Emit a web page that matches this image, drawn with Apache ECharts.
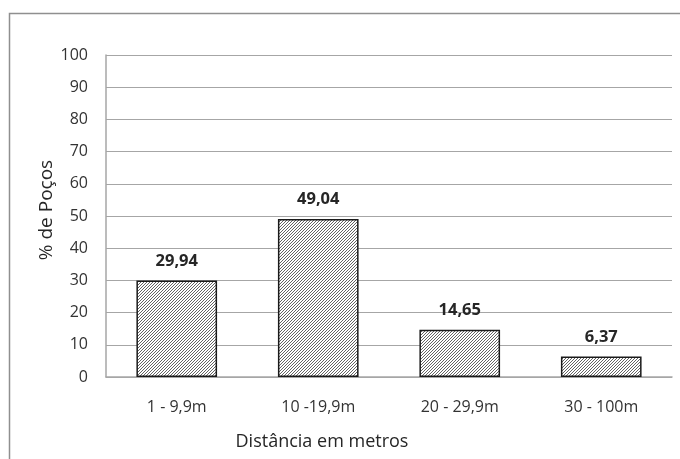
<!DOCTYPE html>
<html>
<head>
<meta charset="utf-8">
<script src="https://cdn.jsdelivr.net/npm/echarts@6/dist/echarts.min.js"></script>
<style>
  html, body { margin: 0; padding: 0; background: #fff; }
  #chart { width: 680px; height: 459px; }
</style>
</head>
<body>
<div id="chart"></div>
<script>
// Distance classes and share of wells (%)
const categories = ['1 - 9,9m', '10 -19,9m', '20 - 29,9m', '30 - 100m'];
const percentages = [29.94, 49.04, 14.65, 6.37];
const yTicks = [0, 10, 20, 30, 40, 50, 60, 70, 80, 90, 100];

// Fine diagonal hatch fill for the bars
function hatchPattern() {
  const size = 3;
  const c = document.createElement('canvas');
  c.width = size; c.height = size;
  const ctx = c.getContext('2d');
  ctx.fillStyle = '#ffffff';
  ctx.fillRect(0, 0, size, size);
  ctx.strokeStyle = '#474747';
  ctx.lineWidth = 0.85;
  ctx.beginPath();
  ctx.moveTo(-1, size + 1); ctx.lineTo(size + 1, -1);
  ctx.moveTo(-1, 1); ctx.lineTo(1, -1);
  ctx.moveTo(size - 1, size + 1); ctx.lineTo(size + 1, size - 1);
  ctx.stroke();
  return c;
}

const chart = echarts.init(document.getElementById('chart'), null, { renderer: 'canvas' });
const font = '"Open Sans", sans-serif';

chart.setOption({
  animation: false,
  backgroundColor: '#ffffff',
  graphic: [{
    type: 'rect',
    shape: { x: 9.5, y: 13.5, width: 700, height: 460 },
    style: { fill: 'none', stroke: '#8f8f8f', lineWidth: 1.5 },
    silent: true,
    z: -1
  }],
  grid: { left: 106, right: 8, top: 55, bottom: 82, containLabel: false },
  xAxis: {
    type: 'category',
    data: categories,
    name: 'Distância em metros',
    nameLocation: 'middle',
    nameGap: 56,
    nameTextStyle: {
      fontFamily: font, fontSize: 18, color: '#262626',
      padding: [0, 134, 0, 0]
    },
    axisLine: { show: true, lineStyle: { color: '#a6a6a6', width: 1.5 } },
    axisTick: { show: false },
    axisLabel: { fontFamily: font, fontSize: 16, color: '#333333', margin: 22 }
  },
  yAxis: {
    type: 'value',
    min: yTicks[0],
    max: yTicks[yTicks.length - 1],
    interval: 10,
    name: '% de Poços',
    nameLocation: 'middle',
    nameGap: 50,
    nameMoveOverlap: false,
    nameRotate: 90,
    nameTextStyle: {
      fontFamily: font, fontSize: 19, color: '#262626',
      padding: [0, 0, 0, 12]
    },
    axisLine: { show: true, lineStyle: { color: '#a6a6a6', width: 1.5 } },
    axisTick: { show: false },
    axisLabel: { fontFamily: font, fontSize: 16, color: '#333333', margin: 18 },
    splitLine: { show: true, lineStyle: { color: '#a6a6a6', width: 1.2 } }
  },
  series: [{
    type: 'bar',
    data: percentages,
    barWidth: '57%',
    itemStyle: {
      color: { image: hatchPattern(), repeat: 'repeat' },
      borderColor: '#1a1a1a',
      borderWidth: 1.5
    },
    label: {
      show: true,
      position: 'top',
      distance: 11,
      fontFamily: font,
      fontSize: 16.5,
      fontWeight: 'bold',
      color: '#262626',
      formatter: p => p.value.toFixed(2).replace('.', ',')
    }
  }]
});
</script>
</body>
</html>
